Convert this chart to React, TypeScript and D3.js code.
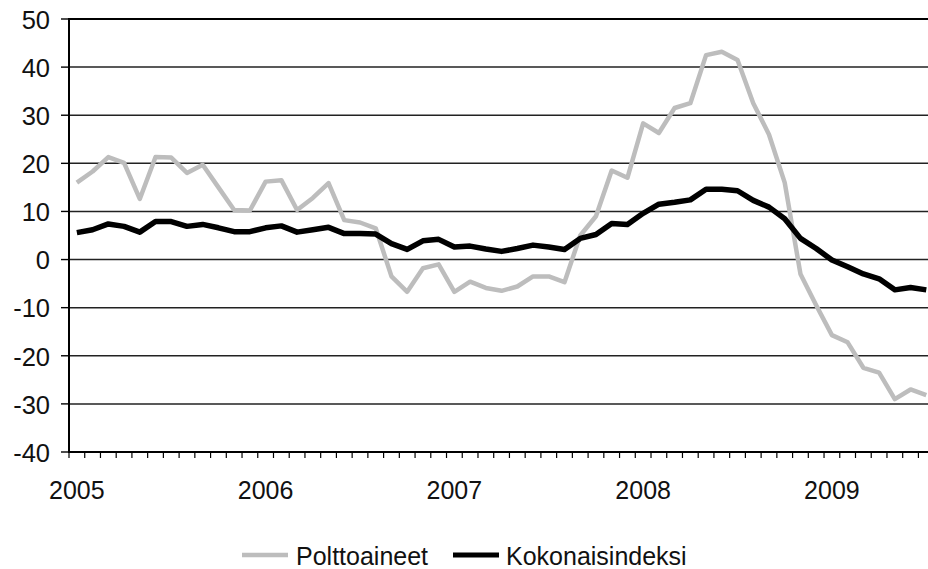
import * as d3 from "d3";
import React from "react";

// monthly values, Jan 2005 .. Jul 2009
const years = ["2005", "2006", "2007", "2008", "2009"];
const months = d3.range(55).map((i) => `${2005 + Math.floor(i / 12)}-${(i % 12) + 1}`);

const polttoaineet = [
  16, 18.3, 21.3, 20.1, 12.6, 21.3, 21.2, 18, 19.7, 15, 10.3, 10.2,
  16.2, 16.5, 10.3, 12.8, 15.9, 8.2, 7.7, 6.5, -3.5, -6.7, -1.8, -1,
  -6.7, -4.6, -5.9, -6.5, -5.6, -3.5, -3.5, -4.7, 5, 9, 18.5, 17,
  28.3, 26.3, 31.5, 32.5, 42.5, 43.2, 41.5, 32.5, 26, 16, -3, -9.5,
  -15.7, -17.2, -22.5, -23.5, -29, -27, -28.2,
];

const kokonaisindeksi = [
  5.6, 6.2, 7.4, 6.9, 5.7, 7.9, 7.9, 6.9, 7.3, 6.6, 5.8, 5.8,
  6.6, 7.0, 5.7, 6.2, 6.7, 5.4, 5.4, 5.3, 3.3, 2.1, 3.9, 4.2,
  2.6, 2.8, 2.2, 1.7, 2.3, 3.0, 2.6, 2.1, 4.4, 5.2, 7.5, 7.3,
  9.6, 11.5, 11.9, 12.4, 14.6, 14.6, 14.3, 12.3, 10.9, 8.5, 4.4, 2.3,
  -0.1, -1.5, -3.0, -4.0, -6.3, -5.8, -6.3,
];

const yTicks = [50, 40, 30, 20, 10, 0, -10, -20, -30, -40];

const series = [
  { name: "Polttoaineet", values: polttoaineet, color: "#bdbdbd", width: 4.5 },
  { name: "Kokonaisindeksi", values: kokonaisindeksi, color: "#000", width: 5.5 },
];

const W = 928;
const H = 569;
const font = "'Liberation Sans', Arial, sans-serif";

export default function App() {
  const left = 69;
  const top = 19;
  const bottom = 452;
  // the plot runs past the right edge of the picture
  const x = d3.scaleBand<string>().domain(months).range([left, left + 55 * 15.73]);
  const y = d3.scaleLinear().domain([-40, 50]).range([bottom, top]);

  const line = d3
    .line<number>()
    .x((_, i) => x(months[i])! + x.bandwidth() / 2)
    .y((d) => y(d));

  return (
    <>
      <style>{`body{margin:0}`}</style>
      <svg width={W} height={H} style={{ display: "block", background: "#fff" }}>
        {/* gridlines */}
        {yTicks.map((t) => (
          <g key={t}>
            <line
              x1={left}
              x2={W}
              y1={y(t)}
              y2={y(t)}
              stroke={t === 50 || t === -40 ? "#000" : "#222"}
              strokeWidth={t === 50 || t === -40 ? 2 : 1.5}
            />
            <line x1={left - 8} x2={left} y1={y(t)} y2={y(t)} stroke="#000" strokeWidth={1.4} />
            <text
              x={50}
              y={y(t) + 3}
              textAnchor="end"
              dominantBaseline="middle"
              fontFamily={font}
              fontSize={25.5}
              fill="#111"
            >
              {t}
            </text>
          </g>
        ))}

        {/* month ticks */}
        {months.map((m) => (
          <line key={m} x1={x(m)!} x2={x(m)!} y1={bottom} y2={bottom + 6} stroke="#000" strokeWidth={1.2} />
        ))}

        {/* year labels */}
        {years.map((yr) => (
          <text
            key={yr}
            x={x(`${yr}-1`)! + x.bandwidth() / 2}
            y={499}
            textAnchor="middle"
            fontFamily={font}
            fontSize={25}
            fill="#111"
          >
            {yr}
          </text>
        ))}

        {/* series */}
        {series.map((s) => (
          <path
            key={s.name}
            d={line(s.values) ?? ""}
            fill="none"
            stroke={s.color}
            strokeWidth={s.width}
            strokeLinejoin="round"
          />
        ))}

        {/* axes */}
        <line x1={left} x2={left} y1={top - 1} y2={bottom + 1} stroke="#000" strokeWidth={2} />

        {/* legend */}
        <line x1={242} x2={288} y1={555} y2={555} stroke="#bdbdbd" strokeWidth={4.5} />
        <text x={296} y={565} fontFamily={font} fontSize={25} fill="#111">
          Polttoaineet
        </text>
        <line x1={453} x2={499} y1={555} y2={555} stroke="#000" strokeWidth={5} />
        <text x={506} y={565} fontFamily={font} fontSize={25} fill="#111">
          Kokonaisindeksi
        </text>
      </svg>
    </>
  );
}
